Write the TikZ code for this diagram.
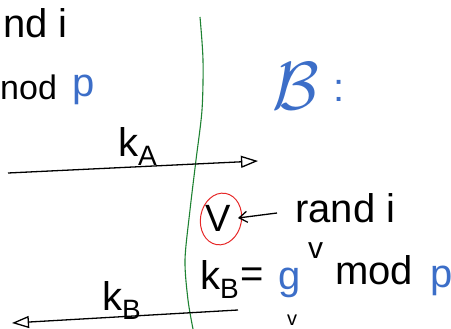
\documentclass[tikz,border=0pt]{standalone}
\usepackage{graphicx}
\usepackage{fontspec}
\setmainfont{Liberation Sans}
\usetikzlibrary{arrows.meta,shapes.geometric}
\definecolor{handblue}{RGB}{60,110,200}
\definecolor{handgreen}{RGB}{30,130,50}
\definecolor{handred}{RGB}{230,40,40}
\newcommand{\bigtxt}{\fontsize{40}{40}\selectfont}
\newcommand{\subtxt}[1]{\raisebox{-0.22em}{\fontsize{28}{28}\selectfont #1}}
\begin{document}
\begin{tikzpicture}[x=1pt,y=-1pt,
  txt/.style={font=\bigtxt, inner sep=0pt, anchor=base west},
  bluetxt/.style={txt, text=handblue},
  handline/.style={line width=1.3pt, black},
  openhead/.style={-{Triangle[open,length=17pt,width=12pt,line width=1.3pt]}},
  barbhead/.style={-{Straight Barb[length=8pt,width=11pt,line width=1.3pt]}}]
\useasboundingbox (0,0) rectangle (451,329);
% left column (cut by the page edge in the original)
\node[txt] (arand) at (3,38) {nd i};
\node[txt, font=\fontsize{34}{34}\selectfont] (amod) at (0,100) {nod};
\node[bluetxt] (ap) at (72,97) {p};
\node[txt] (ka) at (118,157) {k\subtxt{A}};
% divider
\draw[handgreen, line width=1.1pt] plot[smooth] coordinates
  {(200,17) (203,60) (202,110) (196,160) (190,210) (185,260) (188,300) (193,329)};
% B side
\node[bluetxt, font=\normalsize] (bb) at (272,110) {\scalebox{6.8}{$\mathcal{B}$}};
\node[bluetxt] (bcolon) at (333,102) {:};
% message k_A
\coordinate (a1) at (8,173);
\coordinate (a2) at (258,161);
\draw[handline, openhead] (a1) -- (a2);
% v chosen at random
\node[txt, anchor=center, font=\fontsize{38}{38}\selectfont] (v) at (218,218) {V};
\node[ellipse, draw=handred, line width=1pt, minimum width=41pt, minimum height=52pt, rotate=-10] (vc) at (221,219) {};
\node[txt] (brand) at (295,223) {rand i};
\coordinate (r1) at (277,213);
\coordinate (r2) at (238,218);
\draw[handline, barbhead] (r1) -- (r2);
% k_B = g^v mod p
\node[txt] (kb) at (200,290) {k\subtxt{B}};
\node[txt] (eq) at (240,288) {=};
\node[bluetxt] (g) at (278,290) {g};
\node[txt, font=\fontsize{30}{30}\selectfont] (gv) at (308,259) {v};
\node[txt] (bmod) at (335,285) {mod};
\node[bluetxt] (bp) at (430,288) {p};
% message k_B
\node[txt] (kbl) at (102,311) {k\subtxt{B}};
\coordinate (b1) at (238,310);
\coordinate (b2) at (12,323);
\draw[handline, openhead] (b1) -- (b2);
% small letter at the bottom
\node[txt, font=\fontsize{20}{20}\selectfont] (bv) at (287,326) {v};
\end{tikzpicture}
\end{document}
